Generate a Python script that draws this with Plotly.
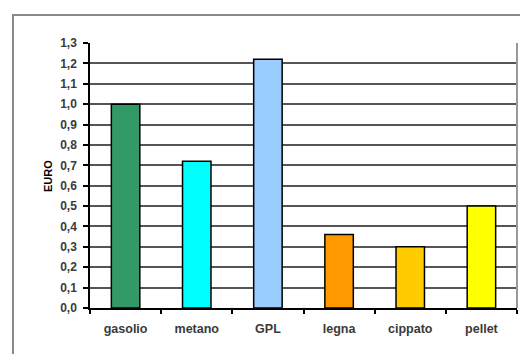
import plotly.graph_objects as go

categories = ["gasolio", "metano", "GPL", "legna", "cippato", "pellet"]
values = [1.0, 0.72, 1.22, 0.36, 0.30, 0.50]
colors = ["#339966", "#00FFFF", "#99CCFF", "#FF9900", "#FFCC00", "#FFFF00"]
tick_vals = [i / 10 for i in range(14)]
tick_text = [f"{v:.1f}".replace(".", ",") for v in tick_vals]

W, H = 520, 354
ml, mr, mt, mb = 90, 3, 43, 46
pw, ph = W - ml - mr, H - mt - mb

fig = go.Figure(go.Bar(
    x=categories, y=values,
    marker=dict(color=colors, line=dict(color="black", width=1.5)),
    width=0.4,
))

fig.update_layout(
    width=W, height=H,
    margin=dict(l=ml, r=mr, t=mt, b=mb),
    paper_bgcolor="white", plot_bgcolor="white",
    font=dict(family="Liberation Sans, Arial", size=12.5, color="#3a3a3a"),
    showlegend=False,
    xaxis=dict(
        showline=True, linecolor="black", linewidth=1.5,
        ticks="outside", tickson="boundaries", ticklen=4, tickcolor="black",
        tickwidth=1.5, showgrid=False,
        tickfont=dict(size=12.5, color="#3a3a3a", weight="bold"),
        ticklabelstandoff=8,
    ),
    yaxis=dict(
        range=[0, 1.3], tickvals=tick_vals, ticktext=tick_text,
        showline=True, linecolor="black", linewidth=1.5,
        ticks="outside", ticklen=5, tickcolor="black", tickwidth=1.5,
        showgrid=True, gridcolor="#555555", gridwidth=1.5,
        zeroline=False,
        tickfont=dict(size=12, color="#3a3a3a", weight="bold"),
        ticklabelstandoff=4,
    ),
    shapes=[
        dict(type="rect", xref="paper", yref="paper",
             x0=(13 - ml) / pw, x1=1.2, y0=-0.5, y1=(H - mb - 15) / ph,
             line=dict(color="#888888", width=2), layer="below"),
        dict(type="line", xref="paper", yref="paper", x0=1, x1=1, y0=0, y1=1,
             line=dict(color="#999999", width=2)),
    ],
    annotations=[
        dict(text="<b>EURO</b>", xref="paper", yref="paper",
             x=(40 - ml) / pw, y=(H - mb - 176) / ph, textangle=-90, showarrow=False,
             font=dict(size=11, color="black")),
    ],
)

fig.write_html("out.html")
